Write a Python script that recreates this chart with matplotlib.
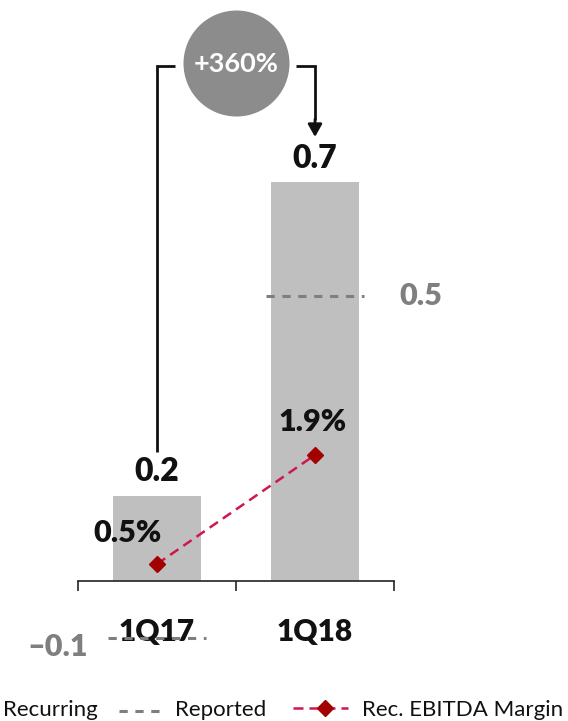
import matplotlib
matplotlib.use("Agg")
import matplotlib.pyplot as plt
from matplotlib.lines import Line2D

# ---- data ----
categories = ["1Q17", "1Q18"]
recurring = [0.15, 0.70]
recurring_labels = ["0.2", "0.7"]
reported = [-0.1, 0.5]
reported_labels = ["\u20130.1", "0.5"]
margin = [0.5, 1.9]
margin_labels = ["0.5%", "1.9%"]
growth_label = "+360%"
legend_labels = ["Recurring", "Reported", "Rec. EBITDA Margin"]

W, H, DPI = 568, 721, 100
plt.rcParams['font.family'] = ['Lato', 'DejaVu Sans']

fig = plt.figure(figsize=(W / DPI, H / DPI), dpi=DPI)
px = 0.72  # points per pixel

ax = fig.add_axes([78 / W, 0, 316 / W, 1])
ax.set_xlim(-0.5, 1.5)
ax.set_ylim(-0.2456, 1.0193)
for s in ['top', 'right', 'left']:
    ax.spines[s].set_visible(False)
ax.spines['bottom'].set_position(('data', 0))
ax.spines['bottom'].set_color('#222222')
ax.spines['bottom'].set_linewidth(1.2)
ax.set_yticks([])
ax.set_xticks([-0.5, 0.5, 1.5])
ax.set_xticklabels([])
ax.tick_params(axis='x', direction='out', length=10 * px, width=1.2, color='#222222')
ax.patch.set_alpha(0)

x = list(range(len(categories)))
ax.bar(x, recurring, width=0.563, color='#bfbfbf', zorder=1)

BLACK = '#111111'
GREY = '#7f7f7f'
RED_LINE = '#d0174c'
RED_MARK = '#a30000'
WEIGHT = 'heavy'
REP_DASH = (2.7, 2.5)
MAR_DASH = (4.0, 2.4)

for xi, v, lab in zip(x, recurring, recurring_labels):
    ax.annotate(lab, (xi, v), xytext=(0, 24 * px), textcoords='offset points',
                ha='center', va='center', fontsize=23, fontweight=WEIGHT, color=BLACK)

for xi, c in zip(x, categories):
    ax.annotate(c, (xi, 0), xytext=(0, -51 * px), textcoords='offset points',
                ha='center', va='center', fontsize=21.5, fontweight=WEIGHT, color=BLACK,
                annotation_clip=False)

# reported dashed lines
for xi, v in zip(x, reported):
    ax.plot([xi - 0.31, xi + 0.31], [v, v], color=GREY, lw=2.2,
            dashes=REP_DASH, clip_on=False, zorder=3)
ax.annotate(reported_labels[1], (x[1] + 0.31, reported[1]), xytext=(57 * px, 0),
            textcoords='offset points', ha='center', va='center', fontsize=22,
            fontweight=WEIGHT, color=GREY, annotation_clip=False)
ax.annotate(reported_labels[0], (x[0] - 0.31, reported[0]), xytext=(-50 * px, -9 * px),
            textcoords='offset points', ha='center', va='center', fontsize=22,
            fontweight=WEIGHT, color=GREY, annotation_clip=False)

# growth bracket + circle
top = max(recurring) + 0.2035
left_bottom = recurring[0] + 0.076
tip = recurring[1] + 0.079
ax.plot([x[0], x[0], x[0] + 0.114], [left_bottom, top, top], color=BLACK, lw=2, clip_on=False,
        solid_capstyle='butt', solid_joinstyle='miter')
ax.plot([x[1] - 0.12, x[1], x[1]], [top, top, tip + 0.03], color=BLACK, lw=2, clip_on=False,
        solid_capstyle='butt', solid_joinstyle='miter')
ax.annotate('', xy=(x[1], tip), xytext=(x[1], tip + 0.031),
            arrowprops=dict(arrowstyle='-|>,head_length=0.75,head_width=0.42',
                            color=BLACK, lw=2, shrinkA=0, shrinkB=0),
            annotation_clip=False)
cx = (x[0] + x[1]) / 2
ax.plot([cx], [top + 0.006], marker='o', markersize=106 * px, color='#8c8c8c',
        markeredgewidth=0, clip_on=False, zorder=4)
ax.text(cx, top + 0.003, growth_label, ha='center', va='center', fontsize=19.5,
        fontweight='bold', color='white', zorder=5)

# margin on secondary axis
ax2 = ax.twinx()
ax2.set_ylim(-1.515, 7.74)
ax2.axis('off')
ax2.plot(x, margin, color=RED_LINE, lw=1.8, dashes=MAR_DASH, zorder=5)
ax2.plot(x, margin, linestyle='none', marker='D', markersize=8.5, color=RED_MARK, zorder=6)
offsets = [(-30, 31), (-2, 33)]
for xi, v, lab, (dx, dy) in zip(x, margin, margin_labels, offsets):
    ax2.annotate(lab, (xi, v), xytext=(dx * px, dy * px), textcoords='offset points',
                 ha='center', va='center', fontsize=22, fontweight=WEIGHT, color=BLACK)

# legend (manual)
def fy(p):
    return 1 - p / H

LFS = 16.0
fig.text(3 / W, fy(716), legend_labels[0], fontsize=LFS, color='#111111', va='baseline', ha='left')
fig.add_artist(Line2D([119 / W, 163 / W], [fy(711), fy(711)], color=GREY, lw=2.2,
                      dashes=REP_DASH))
fig.text(175 / W, fy(716), legend_labels[1], fontsize=LFS, color='#111111', va='baseline', ha='left')
fig.add_artist(Line2D([293 / W, 348 / W], [fy(708), fy(708)], color=RED_LINE, lw=1.8,
                      dashes=MAR_DASH))
fig.add_artist(Line2D([325 / W], [fy(708)], marker='D', markersize=8.5, color=RED_MARK,
                      linestyle='none'))
fig.text(362 / W, fy(716), legend_labels[2], fontsize=LFS, color='#111111', va='baseline', ha='left')

fig.savefig('out.png', dpi=DPI)
